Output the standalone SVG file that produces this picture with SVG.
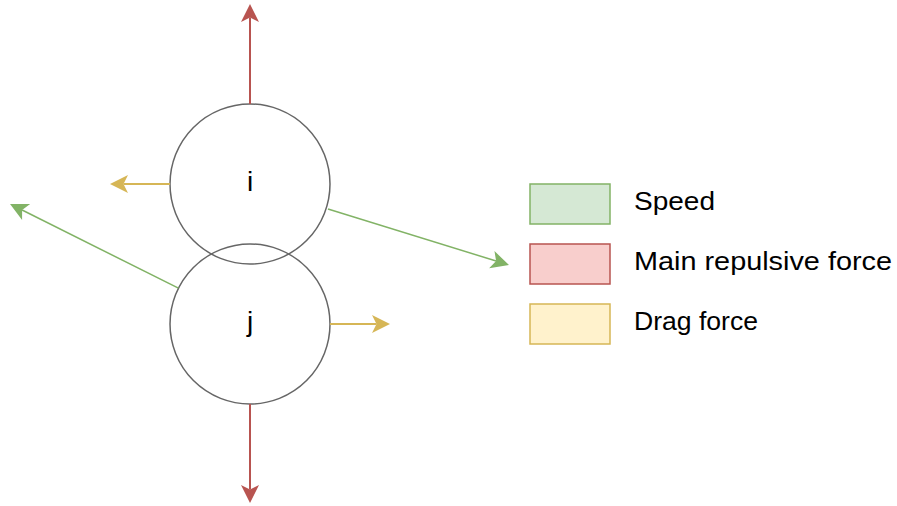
<svg xmlns="http://www.w3.org/2000/svg" width="897" height="506" viewBox="0 0 897 506">
<style>
.circle{fill:#ffffff;stroke:#666666;stroke-width:1.5}
.lbl{font-family:"Liberation Sans",Arial,sans-serif;fill:#000000}
.node{font-size:28px}
.leg{font-size:25px}
.red{stroke:#b85450;stroke-width:2;fill:none}
.yel{stroke:#d6b656;stroke-width:2;fill:none}
.grn{stroke:#82b366;stroke-width:1.5;fill:none}
</style>
<defs>
<marker id="mr" markerUnits="userSpaceOnUse" markerWidth="18" markerHeight="18" viewBox="0 0 18 18" refX="4.5" refY="9" orient="auto" overflow="visible"><path d="M18,9 L0,0 L4.5,9 L0,18 Z" fill="#b85450"/></marker>
<marker id="my" markerUnits="userSpaceOnUse" markerWidth="18" markerHeight="18" viewBox="0 0 18 18" refX="4.5" refY="9" orient="auto" overflow="visible"><path d="M18,9 L0,0 L4.5,9 L0,18 Z" fill="#d6b656"/></marker>
<marker id="mg" markerUnits="userSpaceOnUse" markerWidth="18" markerHeight="18" viewBox="0 0 18 18" refX="4.5" refY="9" orient="auto" overflow="visible"><path d="M18,9 L0,0 L4.5,9 L0,18 Z" fill="#82b366"/></marker>
</defs>
<rect width="897" height="506" fill="#ffffff"/>
<g id="node-i">
<circle class="circle" cx="250" cy="184" r="80"/>
<text class="lbl node" x="250" y="191" text-anchor="middle">i</text>
</g>
<g id="node-j">
<circle class="circle" cx="250" cy="324" r="80" fill-opacity="0"/>
<text class="lbl node" x="250" y="331" text-anchor="middle">j</text>
</g>
<g id="connectors">
<line class="red" x1="250" y1="104" x2="250" y2="17.5" marker-end="url(#mr)"/>
<line class="red" x1="250" y1="404" x2="250" y2="489.5" marker-end="url(#mr)"/>
<line class="yel" x1="170" y1="184" x2="123.5" y2="184" marker-end="url(#my)"/>
<line class="yel" x1="330" y1="324" x2="376.5" y2="324" marker-end="url(#my)"/>
<line class="grn" x1="328" y1="209" x2="496.1" y2="261" marker-end="url(#mg)"/>
<line class="grn" x1="178.4" y1="288.2" x2="22.1" y2="210" marker-end="url(#mg)"/>
</g>
<g id="legend-speed">
<rect x="530" y="184" width="80" height="40" fill="#d5e8d4" stroke="#82b366" stroke-width="1.5"/>
<text class="lbl leg" x="634" y="210" textLength="81" lengthAdjust="spacingAndGlyphs">Speed</text>
</g>
<g id="legend-main">
<rect x="530" y="244" width="80" height="40" fill="#f8cecc" stroke="#b85450" stroke-width="1.5"/>
<text class="lbl leg" x="634" y="270" textLength="258" lengthAdjust="spacingAndGlyphs">Main repulsive force</text>
</g>
<g id="legend-drag">
<rect x="530" y="304" width="80" height="40" fill="#fff2cc" stroke="#d6b656" stroke-width="1.5"/>
<text class="lbl leg" x="634" y="330" textLength="124" lengthAdjust="spacingAndGlyphs">Drag force</text>
</g>
</svg>
